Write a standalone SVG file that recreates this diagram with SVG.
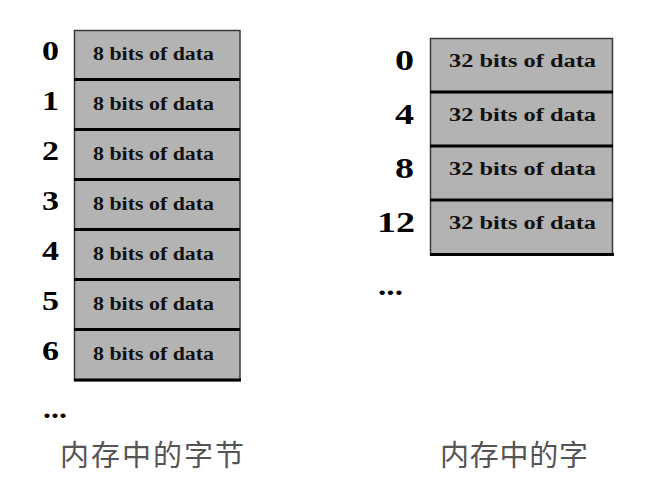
<svg xmlns="http://www.w3.org/2000/svg" width="668" height="489" viewBox="0 0 668 489">
<style>
.cell{fill:#b3b3b3;stroke:#3a3a3a;stroke-width:1.5}
.div{stroke:#000;stroke-width:3}
.num{font-family:"Liberation Serif","Times New Roman",serif;font-weight:bold;fill:#000}
.data{font-family:"Liberation Serif","Times New Roman",serif;font-weight:bold;fill:#111}
.cap{font-family:"Noto Sans CJK SC","Noto Sans",sans-serif;fill:#555;font-size:29px}
</style>
<rect width="668" height="489" fill="#fff"/>
<g id="bytes">
  <rect class="cell" x="74.5" y="30.5" width="165.5" height="350"/>
  <g id="b0"><text class="num" x="42" y="59.5" font-size="28" textLength="17" lengthAdjust="spacingAndGlyphs">0</text><text class="data" x="93" y="60" font-size="18" textLength="121" lengthAdjust="spacingAndGlyphs">8 bits of data</text></g>
  <g id="b1"><text class="num" x="42" y="109.5" font-size="28" textLength="17" lengthAdjust="spacingAndGlyphs">1</text><text class="data" x="93" y="110" font-size="18" textLength="121" lengthAdjust="spacingAndGlyphs">8 bits of data</text></g>
  <g id="b2"><text class="num" x="42" y="159.5" font-size="28" textLength="17" lengthAdjust="spacingAndGlyphs">2</text><text class="data" x="93" y="160" font-size="18" textLength="121" lengthAdjust="spacingAndGlyphs">8 bits of data</text></g>
  <g id="b3"><text class="num" x="42" y="209.5" font-size="28" textLength="17" lengthAdjust="spacingAndGlyphs">3</text><text class="data" x="93" y="210" font-size="18" textLength="121" lengthAdjust="spacingAndGlyphs">8 bits of data</text></g>
  <g id="b4"><text class="num" x="42" y="259.5" font-size="28" textLength="17" lengthAdjust="spacingAndGlyphs">4</text><text class="data" x="93" y="260" font-size="18" textLength="121" lengthAdjust="spacingAndGlyphs">8 bits of data</text></g>
  <g id="b5"><text class="num" x="42" y="309.5" font-size="28" textLength="17" lengthAdjust="spacingAndGlyphs">5</text><text class="data" x="93" y="310" font-size="18" textLength="121" lengthAdjust="spacingAndGlyphs">8 bits of data</text></g>
  <g id="b6"><text class="num" x="42" y="359.5" font-size="28" textLength="17" lengthAdjust="spacingAndGlyphs">6</text><text class="data" x="93" y="360" font-size="18" textLength="121" lengthAdjust="spacingAndGlyphs">8 bits of data</text></g>
  <g class="div">
    <line x1="74" y1="79.5" x2="240" y2="79.5"/>
    <line x1="74" y1="129.5" x2="240" y2="129.5"/>
    <line x1="74" y1="179.5" x2="240" y2="179.5"/>
    <line x1="74" y1="229.5" x2="240" y2="229.5"/>
    <line x1="74" y1="279.5" x2="240" y2="279.5"/>
    <line x1="74" y1="329.5" x2="240" y2="329.5"/>
    <line x1="74" y1="380" x2="241" y2="380"/>
  </g>
  <text class="num" x="43" y="418" font-size="28" textLength="24" lengthAdjust="spacingAndGlyphs">...</text>
  <text class="cap" x="60" y="466" textLength="184" lengthAdjust="spacing">内存中的字节</text>
</g>
<g id="words">
  <rect class="cell" x="430.5" y="38.5" width="182" height="216"/>
  <g id="w0"><text class="num" x="395" y="70" font-size="30" textLength="19" lengthAdjust="spacingAndGlyphs">0</text><text class="data" x="449" y="67" font-size="18.5" textLength="147" lengthAdjust="spacingAndGlyphs">32 bits of data</text></g>
  <g id="w4"><text class="num" x="395" y="124" font-size="30" textLength="19" lengthAdjust="spacingAndGlyphs">4</text><text class="data" x="449" y="121" font-size="18.5" textLength="147" lengthAdjust="spacingAndGlyphs">32 bits of data</text></g>
  <g id="w8"><text class="num" x="395" y="178" font-size="30" textLength="19" lengthAdjust="spacingAndGlyphs">8</text><text class="data" x="449" y="175" font-size="18.5" textLength="147" lengthAdjust="spacingAndGlyphs">32 bits of data</text></g>
  <g id="w12"><text class="num" x="377" y="232" font-size="30" textLength="38" lengthAdjust="spacingAndGlyphs">12</text><text class="data" x="449" y="229" font-size="18.5" textLength="147" lengthAdjust="spacingAndGlyphs">32 bits of data</text></g>
  <g class="div">
    <line x1="430" y1="92" x2="613" y2="92"/>
    <line x1="430" y1="146" x2="613" y2="146"/>
    <line x1="430" y1="200" x2="613" y2="200"/>
    <line x1="430" y1="254.5" x2="614" y2="254.5"/>
  </g>
  <text class="num" x="378" y="295" font-size="28" textLength="25" lengthAdjust="spacingAndGlyphs">...</text>
  <text class="cap" x="440" y="466" textLength="148" lengthAdjust="spacing">内存中的字</text>
</g>
<g id="connectors"/>
</svg>
